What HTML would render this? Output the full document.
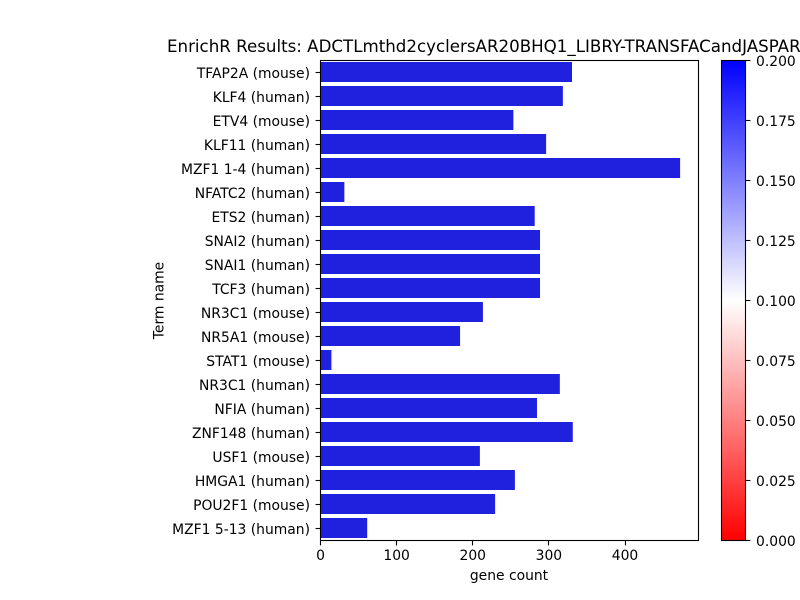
<!DOCTYPE html>
<html>
<head>
<meta charset="utf-8">
<title>EnrichR Results</title>
<style>
html,body{margin:0;padding:0;background:#fff;overflow:hidden;}
svg{display:block;}
text{font-family:"DejaVu Sans",sans-serif;fill:#000;}
</style>
</head>
<body>
<svg id="chart" width="800" height="600" viewBox="0 0 800 600" xmlns="http://www.w3.org/2000/svg">
<defs>
<linearGradient id="bwr" x1="0" y1="1" x2="0" y2="0">
<stop offset="0" stop-color="#ff0000"/>
<stop offset="0.5" stop-color="#ffffff"/>
<stop offset="1" stop-color="#0000ff"/>
</linearGradient>
</defs>
<rect x="0" y="0" width="800" height="600" fill="#fff"/>
<g id="bars"></g>
<g id="y-axis"></g>
<g id="x-axis"></g>
<rect x="320.5" y="60.5" width="378" height="480" fill="none" stroke="#000" stroke-width="1.1"/>
<text x="167" y="52" font-size="16.67">EnrichR Results: ADCTLmthd2cyclersAR20BHQ1_LIBRY-TRANSFACandJASPAR</text>
<text x="509" y="580" font-size="13.89" text-anchor="middle">gene count</text>
<text transform="translate(163.5 300.5) rotate(-90)" font-size="13.89" text-anchor="middle">Term name</text>
<rect x="721.5" y="60.5" width="24" height="480" fill="url(#bwr)"/>
<g id="colorbar-axis"></g>
<rect x="721.5" y="60.5" width="24" height="480" fill="none" stroke="#000" stroke-width="1.1"/>
</svg>
<script>
const terms = ["TFAP2A (mouse)","KLF4 (human)","ETV4 (mouse)","KLF11 (human)","MZF1 1-4 (human)","NFATC2 (human)","ETS2 (human)","SNAI2 (human)","SNAI1 (human)","TCF3 (human)","NR3C1 (mouse)","NR5A1 (mouse)","STAT1 (mouse)","NR3C1 (human)","NFIA (human)","ZNF148 (human)","USF1 (mouse)","HMGA1 (human)","POU2F1 (mouse)","MZF1 5-13 (human)"];
const geneCounts = [331,319,254,297,473,32,282,289,289,289,214,184,15,315,285,332,210,256,230,62];
const xTicks = [0,100,200,300,400];
const colorbarTicks = ["0.000","0.025","0.050","0.075","0.100","0.125","0.150","0.175","0.200"];
const xMax = 496.5;
const colorMax = 0.2;

const NS = "http://www.w3.org/2000/svg";
const plotLeft = 320, plotRight = 698, plotTop = 60, plotBottom = 540;
const cbRight = 745.5;
function xScale(v){ return plotLeft + (v / xMax) * (plotRight - plotLeft); }
function bandCenter(i){ return plotTop + (i + 0.5) * (plotBottom - plotTop) / terms.length; }
function cbScale(v){ return plotBottom + 0.5 - (v / colorMax) * (plotBottom - plotTop); }
function make(tag, attrs, parent, txt){
  const el = document.createElementNS(NS, tag);
  for (const k in attrs) el.setAttribute(k, attrs[k]);
  if (txt !== undefined) el.textContent = txt;
  parent.appendChild(el);
  return el;
}
const barsG = document.getElementById("bars");
const yG = document.getElementById("y-axis");
const xG = document.getElementById("x-axis");
const cbG = document.getElementById("colorbar-axis");

terms.forEach(function(term, i){
  const cy = bandCenter(i);
  const bar = make("rect", {x: plotLeft, y: cy - 10, width: xScale(geneCounts[i]) - plotLeft, height: 20, fill: "#2020df"}, barsG);
  
  
  const tick = make("line", {x1: plotLeft + 0.5 - 4.9, x2: plotLeft + 0.5, y1: Math.round(cy) + 0.5, y2: Math.round(cy) + 0.5, stroke: "#000", "stroke-width": 1.1}, yG);
  
  
  const label = make("text", {x: 310, y: cy + 6, "font-size": 13.89, "text-anchor": "end"}, yG, term);
  
  
});

xTicks.forEach(function(v){
  const x = xScale(v);
  const px = Math.round(x) + 0.5;
  const tick = make("line", {x1: px, x2: px, y1: plotBottom, y2: plotBottom + 5.4, stroke: "#000", "stroke-width": 1.1}, xG);
  
  
  const label = make("text", {x: x + 0.5, y: 560, "font-size": 13.89, "text-anchor": "middle"}, xG, String(v));
  
  
});

colorbarTicks.forEach(function(t){
  const y = cbScale(parseFloat(t));
  const tick = make("line", {x1: cbRight, x2: cbRight + 4.9, y1: y, y2: y, stroke: "#000", "stroke-width": 1.1}, cbG);
  
  
  const label = make("text", {x: 756, y: y + 5.5, "font-size": 13.89}, cbG, t);
  
  
});
</script>
</body>
</html>
